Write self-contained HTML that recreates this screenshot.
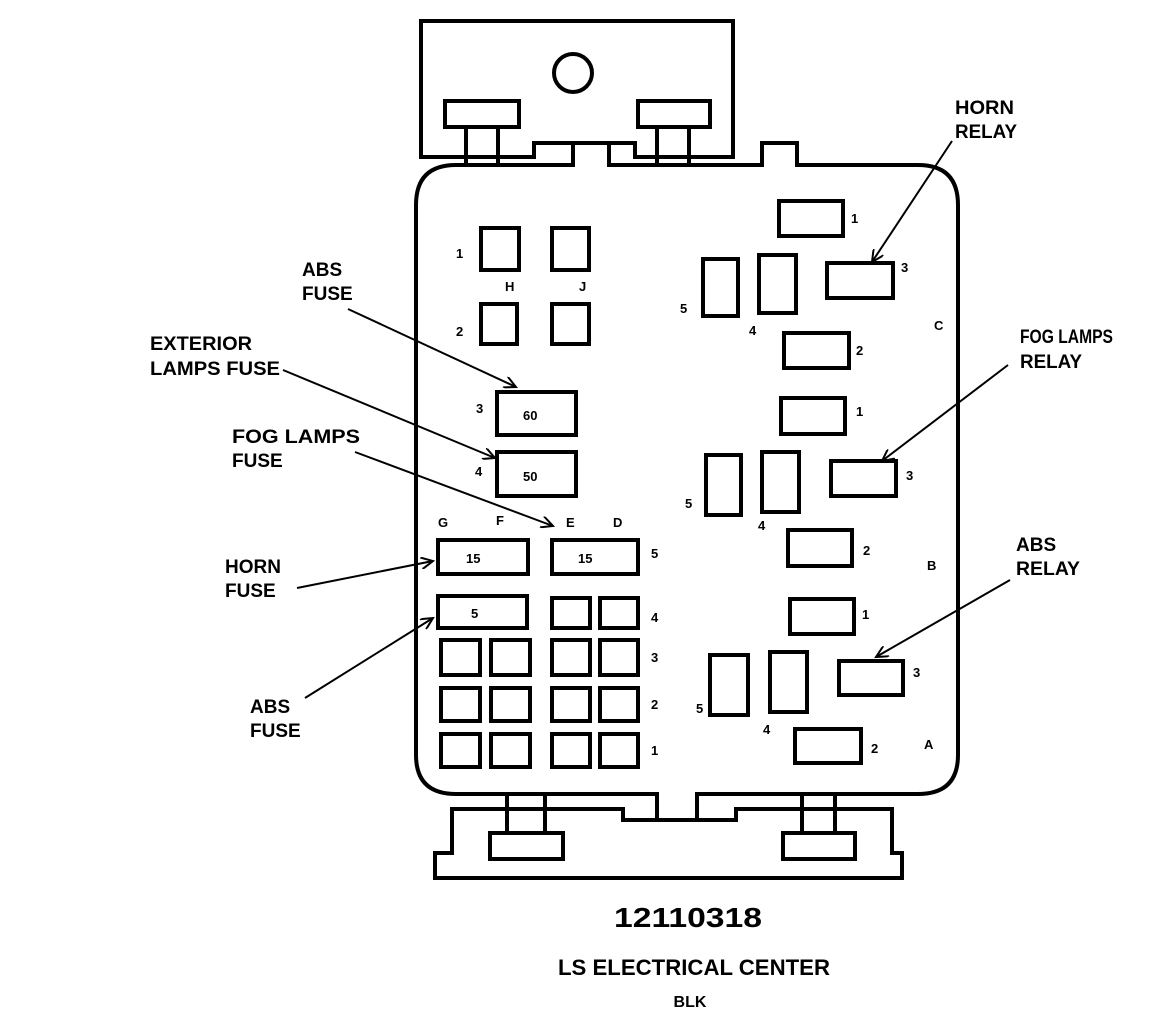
<!DOCTYPE html>
<html><head><meta charset="utf-8"><style>
html,body{margin:0;padding:0;background:#fff;width:1152px;height:1014px;overflow:hidden}
svg{display:block}
text{font-family:"Liberation Sans",sans-serif;font-weight:bold;fill:#000}
.t{font-size:19px}
.s{font-size:13px}
</style></head><body>
<svg width="1152" height="1014" viewBox="0 0 1152 1014" xmlns="http://www.w3.org/2000/svg">
<defs>
<marker id="a" markerWidth="14" markerHeight="12" refX="12" refY="6" orient="auto" markerUnits="userSpaceOnUse">
<path d="M0,0 L12,6 L0,12" fill="none" stroke="#000" stroke-width="2"/>
</marker>
</defs>
<g fill="none" stroke="#000" stroke-width="4">
<path d="M534,157 L421,157 L421,21 L733,21 L733,157 L635,157 L635,143 L534,143 Z"/>
<circle cx="573" cy="73" r="19"/>
<rect x="445" y="101" width="74" height="26"/>
<rect x="638" y="101" width="72" height="26"/>
<line x1="466" y1="127" x2="466" y2="165"/><line x1="498" y1="127" x2="498" y2="165"/>
<line x1="657" y1="127" x2="657" y2="165"/><line x1="689" y1="127" x2="689" y2="165"/>
<path d="M573,165 L573,143 L609,143 L609,165 L762,165 L762,143 L797,143 L797,165 L918,165 Q958,165 958,205 L958,755 Q958,794 918,794 L697,794 L697,820 L657,820 L657,794 L456,794 Q416,794 416,755 L416,205 Q416,165 456,165 Z"/>
<path d="M623,820 L623,809 L452,809 L452,853 L435,853 L435,878 L902,878 L902,853 L892,853 L892,809 L736,809 L736,820 Z"/>
<rect x="490" y="833" width="73" height="26"/>
<rect x="783" y="833" width="72" height="26"/>
<line x1="507" y1="794" x2="507" y2="833"/><line x1="545" y1="794" x2="545" y2="833"/>
<line x1="802" y1="794" x2="802" y2="833"/><line x1="835" y1="794" x2="835" y2="833"/>
<rect x="481" y="228" width="38" height="42"/><rect x="552" y="228" width="37" height="42"/>
<rect x="481" y="304" width="36" height="40"/><rect x="552" y="304" width="37" height="40"/>
<rect x="497" y="392" width="79" height="43"/><rect x="497" y="452" width="79" height="44"/>
<rect x="438" y="540" width="90" height="34"/><rect x="552" y="540" width="86" height="34"/>
<rect x="438" y="596" width="89" height="32"/>
<rect x="552" y="598" width="38" height="30"/><rect x="600" y="598" width="38" height="30"/>
<rect x="441" y="640" width="39" height="35"/><rect x="491" y="640" width="39" height="35"/><rect x="552" y="640" width="38" height="35"/><rect x="600" y="640" width="38" height="35"/>
<rect x="441" y="688" width="39" height="33"/><rect x="491" y="688" width="39" height="33"/><rect x="552" y="688" width="38" height="33"/><rect x="600" y="688" width="38" height="33"/>
<rect x="441" y="734" width="39" height="33"/><rect x="491" y="734" width="39" height="33"/><rect x="552" y="734" width="38" height="33"/><rect x="600" y="734" width="38" height="33"/>
<rect x="779" y="201" width="64" height="35"/><rect x="827" y="263" width="66" height="35"/>
<rect x="703" y="259" width="35" height="57"/><rect x="759" y="255" width="37" height="58"/>
<rect x="784" y="333" width="65" height="35"/>
<rect x="781" y="398" width="64" height="36"/><rect x="831" y="461" width="65" height="35"/>
<rect x="706" y="455" width="35" height="60"/><rect x="762" y="452" width="37" height="60"/>
<rect x="788" y="530" width="64" height="36"/>
<rect x="790" y="599" width="64" height="35"/><rect x="839" y="661" width="64" height="34"/>
<rect x="710" y="655" width="38" height="60"/><rect x="770" y="652" width="37" height="60"/>
<rect x="795" y="729" width="66" height="34"/>
</g>
<g stroke="#000" stroke-width="2" fill="none" marker-end="url(#a)">
<line x1="952" y1="141" x2="872" y2="262"/>
<line x1="1008" y1="365" x2="882" y2="461"/>
<line x1="1010" y1="580" x2="876" y2="657"/>
<line x1="348" y1="309" x2="516" y2="387"/>
<line x1="283" y1="370" x2="495" y2="458"/>
<line x1="355" y1="452" x2="553" y2="526"/>
<line x1="297" y1="588" x2="433" y2="561"/>
<line x1="305" y1="698" x2="433" y2="618"/>
</g>
<g class="t">
<text x="955" y="114" textLength="59" lengthAdjust="spacingAndGlyphs">HORN</text><text x="955" y="138" textLength="62" lengthAdjust="spacingAndGlyphs">RELAY</text>
<text x="1020" y="343" textLength="93" lengthAdjust="spacingAndGlyphs">FOG LAMPS</text><text x="1020" y="368" textLength="62" lengthAdjust="spacingAndGlyphs">RELAY</text>
<text x="1016" y="551">ABS</text><text x="1016" y="575" textLength="64" lengthAdjust="spacingAndGlyphs">RELAY</text>
<text x="302" y="276">ABS</text><text x="302" y="300">FUSE</text>
<text x="150" y="350" textLength="102" lengthAdjust="spacingAndGlyphs">EXTERIOR</text><text x="150" y="375" textLength="130" lengthAdjust="spacingAndGlyphs">LAMPS FUSE</text>
<text x="232" y="443" textLength="128" lengthAdjust="spacingAndGlyphs">FOG LAMPS</text><text x="232" y="467">FUSE</text>
<text x="225" y="573">HORN</text><text x="225" y="597">FUSE</text>
<text x="250" y="713">ABS</text><text x="250" y="737">FUSE</text>
</g>
<g class="s">
<text x="456" y="258">1</text><text x="505" y="291">H</text><text x="579" y="291">J</text><text x="456" y="336">2</text>
<text x="476" y="413">3</text><text x="475" y="476">4</text>
<text x="523" y="420">60</text><text x="523" y="481">50</text>
<text x="438" y="527">G</text><text x="496" y="525">F</text><text x="566" y="527">E</text><text x="613" y="527">D</text>
<text x="466" y="563">15</text><text x="578" y="563">15</text><text x="651" y="558">5</text>
<text x="471" y="618">5</text><text x="651" y="622">4</text>
<text x="651" y="662">3</text><text x="651" y="709">2</text><text x="651" y="755">1</text>
<text x="851" y="223">1</text><text x="901" y="272">3</text><text x="680" y="313">5</text><text x="749" y="335">4</text><text x="856" y="355">2</text><text x="934" y="330">C</text>
<text x="856" y="416">1</text><text x="906" y="480">3</text><text x="685" y="508">5</text><text x="758" y="530">4</text><text x="863" y="555">2</text><text x="927" y="570">B</text>
<text x="862" y="619">1</text><text x="913" y="677">3</text><text x="696" y="713">5</text><text x="763" y="734">4</text><text x="871" y="753">2</text><text x="924" y="749">A</text>
</g>
<text x="614" y="927" textLength="148" lengthAdjust="spacingAndGlyphs" style="font-size:28px">12110318</text>
<text x="558" y="975" textLength="272" lengthAdjust="spacingAndGlyphs" style="font-size:22px">LS ELECTRICAL CENTER</text>
<text x="690" y="1007" text-anchor="middle" style="font-size:16px">BLK</text>
</svg>
</body></html>
